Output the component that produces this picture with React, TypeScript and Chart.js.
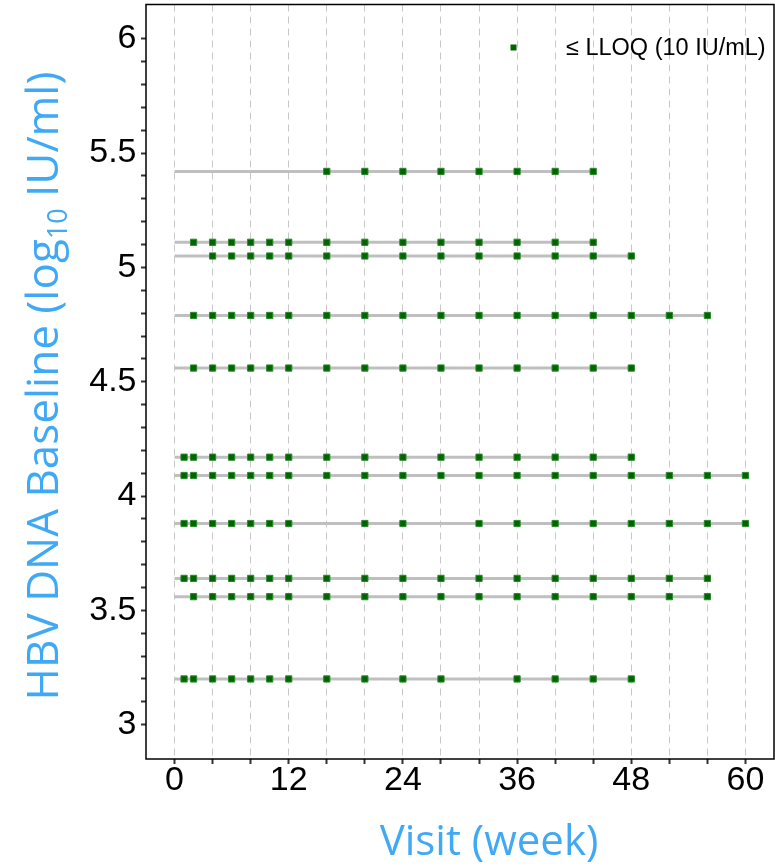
import React, { useEffect, useRef } from "react";
import { Chart, registerables } from "chart.js";

Chart.register(...registerables);

// ---- Data ----
const subjectBaseline = [5.42, 5.11, 5.05, 4.79, 4.56, 4.17, 4.09, 3.88, 3.64, 3.56, 3.2];
const subjectLastVisit = [44, 44, 48, 56, 48, 48, 60, 60, 56, 56, 48];
const subjectLloqVisits = [
  [16, 20, 24, 28, 32, 36, 40, 44],
  [2, 4, 6, 8, 10, 12, 16, 20, 24, 28, 32, 36, 40, 44],
  [4, 6, 8, 10, 12, 16, 20, 24, 28, 32, 36, 40, 44, 48],
  [2, 4, 6, 8, 10, 12, 16, 20, 24, 28, 32, 36, 40, 44, 48, 52, 56],
  [2, 4, 6, 8, 10, 12, 16, 20, 24, 28, 32, 36, 40, 44, 48],
  [1, 2, 4, 6, 8, 10, 12, 16, 20, 24, 28, 32, 36, 40, 44, 48],
  [1, 2, 4, 6, 8, 10, 12, 16, 20, 24, 28, 32, 36, 40, 44, 48, 52, 56, 60],
  [1, 2, 4, 6, 8, 10, 12, 20, 24, 32, 36, 40, 44, 48, 52, 56, 60],
  [1, 2, 4, 6, 8, 10, 12, 16, 20, 24, 28, 32, 36, 40, 44, 48, 52, 56],
  [2, 4, 6, 8, 10, 12, 16, 20, 24, 28, 32, 36, 40, 44, 48, 52, 56],
  [1, 2, 4, 6, 8, 10, 12, 16, 20, 24, 28, 36, 40, 44, 48],
];
const xTickValues = [0, 4, 8, 12, 16, 20, 24, 28, 32, 36, 40, 44, 48, 52, 56, 60];
const xTickLabels = ["0", "12", "24", "36", "48", "60"];
const yTickValues = [
  3, 3.1, 3.2, 3.3, 3.4, 3.5, 3.6, 3.7, 3.8, 3.9, 4, 4.1, 4.2, 4.3, 4.4, 4.5,
  4.6, 4.7, 4.8, 4.9, 5, 5.1, 5.2, 5.3, 5.4, 5.5, 5.6, 5.7, 5.8, 5.9, 6,
];
const yTickLabels = ["3", "3.5", "4", "4.5", "5", "5.5", "6"];
const legendLabel = "≤ LLOQ (10 IU/mL)";
const xTitle = "Visit (week)";
const yTitleParts = ["HBV DNA Baseline (log", "10", " IU/ml)"];

const TICK_FONT = "'Liberation Sans', Arial, sans-serif";
const TITLE_FONT = "'Open Sans', 'Noto Sans', sans-serif";
const TITLE_COLOR = "#3fa9f5";
const MARKER_FILL = "#006400";
const MARKER_BORDER = "#2a8a2a";

const overlayPlugin = {
  id: "overlay",
  afterDraw(chart: any) {
    const { ctx, chartArea } = chart;
    const { left, top, right, bottom } = chartArea;
    ctx.save();
    // frame
    ctx.strokeStyle = "#000";
    ctx.lineWidth = 1.5;
    ctx.strokeRect(left, top, right - left, bottom - top);

    // legend
    const ly = 47.5;
    ctx.fillStyle = MARKER_FILL;
    ctx.fillRect(510.5, ly - 3, 6, 6);
    ctx.fillStyle = "#000";
    ctx.font = `23.5px ${TICK_FONT}`;
    ctx.textAlign = "left";
    ctx.textBaseline = "middle";
    ctx.fillText(legendLabel, 566, ly + 1);

    // x title
    ctx.fillStyle = TITLE_COLOR;
    ctx.font = `42px ${TITLE_FONT}`;
    ctx.textAlign = "center";
    ctx.textBaseline = "alphabetic";
    ctx.fillText(xTitle, 489, 855);

    // y title with subscript
    const big = `44px ${TITLE_FONT}`;
    const small = `27px ${TITLE_FONT}`;
    ctx.font = big;
    const w0 = ctx.measureText(yTitleParts[0]).width;
    const w2 = ctx.measureText(yTitleParts[2]).width;
    ctx.font = small;
    const w1 = ctx.measureText(yTitleParts[1]).width;
    const total = w0 + w1 + w2;
    ctx.translate(58, 386);
    ctx.rotate(-Math.PI / 2);
    ctx.textAlign = "left";
    let x = -total / 2;
    ctx.font = big;
    ctx.fillText(yTitleParts[0], x, 0);
    x += w0;
    ctx.font = small;
    ctx.fillText(yTitleParts[1], x, 9);
    x += w1;
    ctx.font = big;
    ctx.fillText(yTitleParts[2], x, 0);
    ctx.restore();
  },
};

export default function App() {
  const canvasRef = useRef<HTMLCanvasElement | null>(null);

  useEffect(() => {
    document.body.style.margin = "0";
    const canvas = canvasRef.current;
    if (!canvas) return;

    const lineDatasets = subjectBaseline.map((b, i) => ({
      type: "scatter" as const,
      label: `Subject ${i + 1}`,
      data: [
        { x: 0, y: b },
        { x: subjectLastVisit[i], y: b },
      ],
      showLine: true,
      borderColor: "#bfbfbf",
      backgroundColor: "#bfbfbf",
      borderWidth: 3,
      pointRadius: 0,
      order: 1,
    }));

    const markerData: { x: number; y: number }[] = [];
    subjectLloqVisits.forEach((visits, i) => {
      visits.forEach((v) => markerData.push({ x: v, y: subjectBaseline[i] }));
    });

    const chart = new Chart(canvas, {
      type: "scatter",
      data: {
        datasets: [
          {
            label: legendLabel,
            data: markerData,
            pointStyle: "rect",
            pointRadius: 4.4,
            backgroundColor: MARKER_FILL,
            borderColor: MARKER_BORDER,
            borderWidth: 1,
            showLine: false,
            order: 0,
          },
          ...lineDatasets,
        ],
      },
      options: {
        responsive: false,
        animation: false,
        events: [],
        layout: { autoPadding: false, padding: { top: 4.5, right: 1, left: 0, bottom: 0 } },
        plugins: {
          legend: { display: false },
          tooltip: { enabled: false },
          title: { display: false },
        },
        scales: {
          x: {
            type: "linear",
            min: -3,
            max: 63,
            afterBuildTicks: (scale: any) => {
              scale.ticks = xTickValues.map((value) => ({ value }));
            },
            afterFit: (scale: any) => {
              scale.height = 107;
              scale.paddingLeft = 0;
              scale.paddingRight = 0;
              scale.paddingTop = 0;
              scale.paddingBottom = 0;
            },
            ticks: {
              autoSkip: false,
              maxRotation: 0,
              padding: 0,
              color: "#000",
              font: { family: TICK_FONT, size: 34, lineHeight: 1 },
              callback: (value: any) => {
                const s = String(value);
                return xTickLabels.includes(s) ? s : "";
              },
            },
            grid: {
              color: "#c8c8c8",
              lineWidth: 1,
              drawOnChartArea: true,
              drawTicks: true,
              tickLength: 5,
              tickColor: "#333",
              tickWidth: 2,
            },
            border: { display: false, dash: [7, 5] },
          },
          y: {
            type: "linear",
            min: 2.85,
            max: 6.15,
            afterBuildTicks: (scale: any) => {
              scale.ticks = yTickValues.map((value) => ({ value }));
            },
            afterFit: (scale: any) => {
              scale.width = 146;
              scale.paddingLeft = 0;
              scale.paddingRight = 0;
              scale.paddingTop = 0;
              scale.paddingBottom = 0;
            },
            ticks: {
              autoSkip: false,
              padding: 4.5,
              color: "#000",
              font: { family: TICK_FONT, size: 34, lineHeight: 1 },
              callback: (value: any) => {
                const s = String(Math.round(value * 10) / 10);
                return yTickLabels.includes(s) ? s : "";
              },
            },
            grid: {
              drawOnChartArea: false,
              drawTicks: true,
              tickLength: 5,
              tickColor: "#333",
              tickWidth: 2,
            },
            border: { display: false },
          },
        },
      },
      plugins: [overlayPlugin],
    } as any);

    return () => chart.destroy();
  }, []);

  return (
    <div style={{ width: 775, height: 866, background: "#fff" }}>
      <canvas ref={canvasRef} width={775} height={866} style={{ display: "block" }} />
    </div>
  );
}
